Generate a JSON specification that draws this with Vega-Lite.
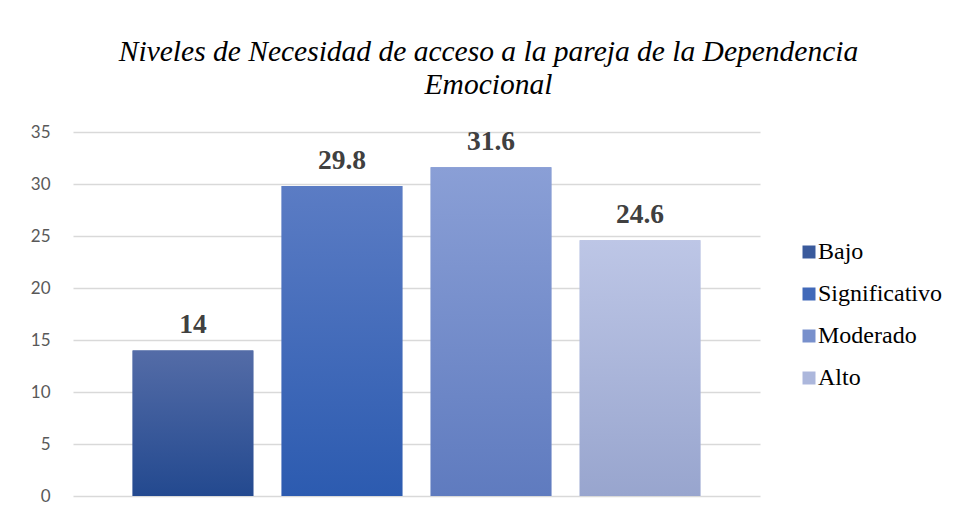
{
  "$schema": "https://vega.github.io/schema/vega-lite/v6.json",
  "autosize": "none",
  "padding": {"left": 73, "top": 132, "right": 195, "bottom": 23},
  "width": 687,
  "height": 364,
  "background": "white",
  "config": {"view": {"stroke": null}, "font": "Liberation Serif"},
  "title": {
    "text": ["Niveles de Necesidad de acceso a la pareja de la Dependencia", "Emocional"],
    "font": "Liberation Serif",
    "fontStyle": "italic",
    "fontWeight": "normal",
    "fontSize": 29.5,
    "color": "#000000",
    "anchor": "middle",
    "dx": 72,
    "offset": 23,
    "lineHeight": 33
  },
  "data": {
    "values": [
      {"nivel": "Bajo", "valor": 14},
      {"nivel": "Significativo", "valor": 29.8},
      {"nivel": "Moderado", "valor": 31.6},
      {"nivel": "Alto", "valor": 24.6}
    ]
  },
  "encoding": {
    "x": {
      "field": "nivel",
      "type": "nominal",
      "sort": null,
      "axis": null,
      "scale": {"paddingInner": 0.19, "paddingOuter": 0.4}
    },
    "y": {
      "field": "valor",
      "type": "quantitative",
      "scale": {"domain": [0, 35]},
      "axis": {
        "title": null,
        "values": [0, 5, 10, 15, 20, 25, 30, 35],
        "domain": false,
        "ticks": false,
        "labelPadding": 23,
        "labelFont": "Lato",
        "labelFontSize": 17,
        "labelColor": "#595959",
        "gridColor": "#d9d9d9",
        "gridWidth": 1.5
      }
    }
  },
  "layer": [
    {
      "mark": {"type": "bar"},
      "encoding": {
        "color": {
          "field": "nivel",
          "type": "nominal",
          "sort": null,
          "scale": {
            "domain": ["Bajo", "Significativo", "Moderado", "Alto"],
            "range": ["#3a5a9c", "#4169b9", "#7890cc", "#acb7dc"]
          },
          "legend": {
            "title": null,
            "orient": "none",
            "legendX": 724,
            "legendY": 108,
            "symbolType": "square",
            "symbolSize": 169,
            "symbolStrokeWidth": 0,
            "symbolOpacity": 1,
            "labelFont": "Liberation Serif",
            "labelFontSize": 24,
            "labelColor": "#000000",
            "labelOffset": -3,
            "rowPadding": 18
          }
        }
      }
    },
    {
      "transform": [{"filter": "datum.nivel === 'Bajo'"}],
      "mark": {"type": "bar", "color": {"gradient": "linear", "x1": 0, "y1": 0, "x2": 0, "y2": 1, "stops": [{"offset": 0, "color": "#546ca7"}, {"offset": 1, "color": "#23498f"}]}},
      "encoding": {}
    },
    {
      "transform": [{"filter": "datum.nivel === 'Significativo'"}],
      "mark": {"type": "bar", "color": {"gradient": "linear", "x1": 0, "y1": 0, "x2": 0, "y2": 1, "stops": [{"offset": 0, "color": "#5b7cc4"}, {"offset": 1, "color": "#2c5bb0"}]}},
      "encoding": {}
    },
    {
      "transform": [{"filter": "datum.nivel === 'Moderado'"}],
      "mark": {"type": "bar", "color": {"gradient": "linear", "x1": 0, "y1": 0, "x2": 0, "y2": 1, "stops": [{"offset": 0, "color": "#8a9fd6"}, {"offset": 1, "color": "#5f7bbf"}]}},
      "encoding": {}
    },
    {
      "transform": [{"filter": "datum.nivel === 'Alto'"}],
      "mark": {"type": "bar", "color": {"gradient": "linear", "x1": 0, "y1": 0, "x2": 0, "y2": 1, "stops": [{"offset": 0, "color": "#bdc6e6"}, {"offset": 1, "color": "#98a5ce"}]}},
      "encoding": {}
    },
    {
      "mark": {
        "type": "text",
        "baseline": "alphabetic",
        "dy": -17,
        "font": "Liberation Serif",
        "fontWeight": "bold",
        "fontSize": 27.5,
        "color": "#404040"
      },
      "encoding": {
        "text": {"field": "valor", "type": "quantitative"}
      }
    }
  ]
}
